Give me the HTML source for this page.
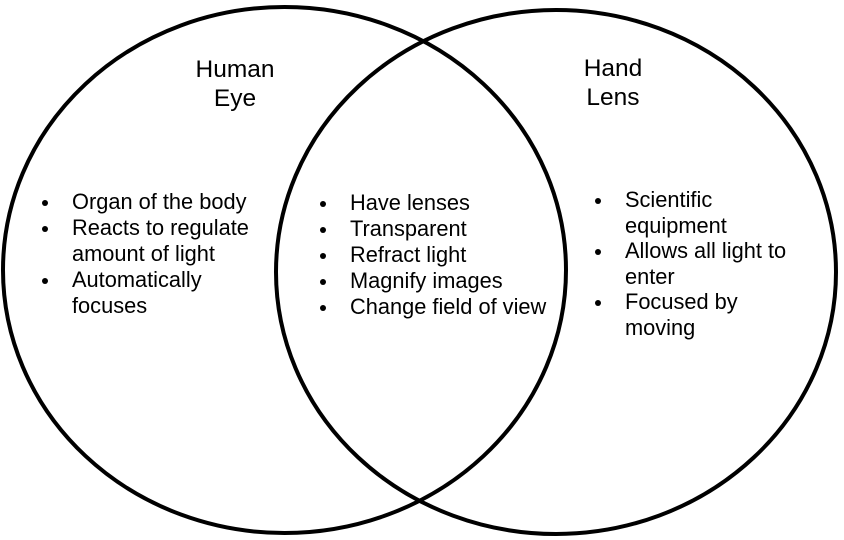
<!DOCTYPE html>
<html><head><style>
body{margin:0;width:844px;height:540px;background:#fff;overflow:hidden;position:relative;font-family:"Liberation Sans",sans-serif;color:#000}
.t{position:absolute;font-size:24.5px;line-height:29px;white-space:nowrap}
.b{position:absolute;font-size:21.8px;line-height:26px;white-space:nowrap}
.b div{position:relative;padding-left:30px}
.b div:before{content:"";position:absolute;left:0;top:11px;width:6px;height:6px;border-radius:50%;background:#000}
</style></head><body>
<svg width="844" height="540" style="position:absolute;left:0;top:0">
<ellipse cx="284.5" cy="270" rx="281.5" ry="263" fill="none" stroke="#000" stroke-width="4"/>
<ellipse cx="556" cy="272" rx="280" ry="262" fill="none" stroke="#000" stroke-width="4"/>
</svg>
<div class="t" style="left:160px;top:55px;width:150px;text-align:center">Human<br>Eye</div>
<div class="t" style="left:538px;top:54px;width:150px;text-align:center">Hand<br>Lens</div>
<div class="b" style="left:42px;top:189px">
<div>Organ of the body</div>
<div>Reacts to regulate<br>amount of light</div>
<div>Automatically<br>focuses</div>
</div>
<div class="b" style="left:320px;top:190px">
<div>Have lenses</div>
<div>Transparent</div>
<div>Refract light</div>
<div>Magnify images</div>
<div>Change field of view</div>
</div>
<div class="b" style="left:595px;top:187px;line-height:25.5px">
<div>Scientific<br>equipment</div>
<div>Allows all light to<br>enter</div>
<div>Focused by<br>moving</div>
</div>
</body></html>
